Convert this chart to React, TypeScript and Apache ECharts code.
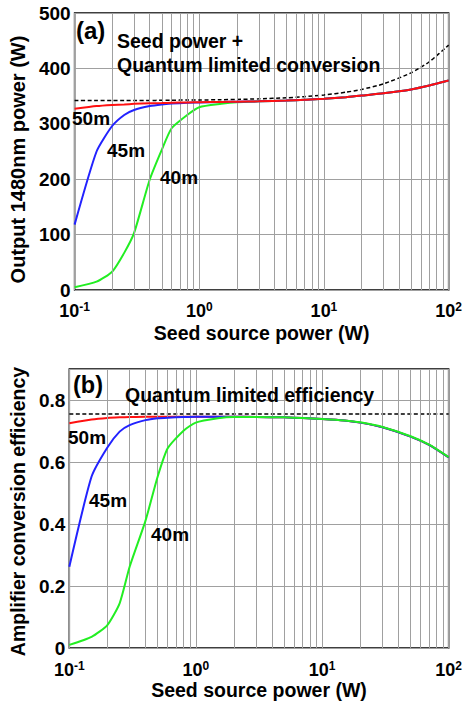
import React, { useEffect, useRef } from 'react';
import * as echarts from 'echarts';

// Seed source power (W) sample points
const seedPower = [0.1, 0.15, 0.2, 0.25, 0.3, 0.4, 0.5, 0.6, 0.8, 1, 1.5, 2, 3, 5, 7, 10, 15, 20, 30, 50, 70, 100];

// (a) Output 1480nm power (W)
const outQuantumLimit = [342, 342, 342, 342, 342, 342, 342.5, 342.5, 343, 343, 343.5, 344, 345, 347, 349, 352, 357, 362, 372, 392, 412, 442];
const out50m = [327, 332, 334, 335, 336, 337, 337.5, 338, 338.5, 339, 339.5, 340, 340.5, 342, 343.5, 345, 348, 351, 355, 362, 369, 378];
const out45m = [118, 250, 296, 316, 325, 332, 335, 336.5, 338, 338.5, 339.5, 340, 340.5, 342, 343.5, 345, 348, 351, 355, 362, 369, 378];
const out40m = [5, 15, 33, 67, 103, 199, 253, 292, 316, 330, 336, 339, 340.5, 342, 343.5, 345, 348, 351, 355, 362, 369, 378];

// (b) Amplifier conversion efficiency
const quantumEfficiency = 0.755;
const eff50m = [0.725, 0.737, 0.742, 0.744, 0.745, 0.746, 0.746, 0.746, 0.746, 0.746, 0.746, 0.746, 0.745, 0.744, 0.742, 0.739, 0.734, 0.727, 0.712, 0.682, 0.655, 0.615];
const eff45m = [0.262, 0.553, 0.647, 0.698, 0.719, 0.735, 0.741, 0.743, 0.745, 0.746, 0.746, 0.746, 0.745, 0.744, 0.742, 0.739, 0.734, 0.727, 0.712, 0.682, 0.655, 0.615];
const eff40m = [0.01, 0.036, 0.074, 0.144, 0.262, 0.41, 0.553, 0.644, 0.701, 0.727, 0.741, 0.745, 0.745, 0.744, 0.742, 0.739, 0.734, 0.728, 0.713, 0.683, 0.656, 0.616];

// Minor log grid positions
const minorGridX = [0.2, 0.3, 0.4, 0.5, 0.6, 0.7, 0.8, 0.9, 2, 3, 4, 5, 6, 7, 8, 9, 20, 30, 40, 50, 60, 70, 80, 90];

const FONT = '"Liberation Sans", Arial, sans-serif';
const GRID_COLOR = '#a0a0a0';

export default function App() {
  const ref = useRef<HTMLDivElement>(null);

  useEffect(() => {
    if (!ref.current) return;
    const chart = echarts.init(ref.current, null, { renderer: 'svg' });
    const pairs = (ys: number[]) => seedPower.map((x, i) => [x, ys[i]]);

    const xAxis = (gridIndex: number, nameGap: number, labelMargin: number) => ({
      type: 'log',
      logBase: 10,
      min: 0.1,
      max: 100,
      gridIndex,
      name: 'Seed source power (W)',
      nameLocation: 'middle',
      nameGap,
      nameTextStyle: { fontFamily: FONT, fontWeight: 'bold', fontSize: 19.5, color: '#000' },
      axisLine: { show: false },
      axisTick: { show: false },
      axisLabel: {
        margin: labelMargin,
        formatter: (v: number) => `{b|10}{s|${Math.round(Math.log10(v))}}`,
        rich: {
          b: { fontFamily: FONT, fontWeight: 'bold', fontSize: 18, color: '#000', lineHeight: 20 },
          s: { fontFamily: FONT, fontWeight: 'bold', fontSize: 12, color: '#000', lineHeight: 13, verticalAlign: 'top' },
        },
      },
      splitLine: { show: true, lineStyle: { color: GRID_COLOR, width: 1 } },
    });

    const yLabelStyle = { fontFamily: FONT, fontWeight: 'bold', fontSize: 19, color: '#000', margin: 4 };

    const minorGridSeries = (idx: number, y: number) => ({
      type: 'line',
      xAxisIndex: idx,
      yAxisIndex: idx,
      data: [[1, y]],
      showSymbol: false,
      lineStyle: { opacity: 0 },
      silent: true,
      z: 1,
      markLine: {
        silent: true,
        symbol: ['none', 'none'],
        label: { show: false },
        lineStyle: { color: GRID_COLOR, width: 1, type: 'solid' },
        data: minorGridX.map((x) => ({ xAxis: x })),
      },
    });

    const line = (idx: number, ys: number[], color: string, name: string, z: number) => ({
      type: 'line',
      name,
      xAxisIndex: idx,
      yAxisIndex: idx,
      data: pairs(ys),
      showSymbol: false,
      smooth: 0.2,
      lineStyle: { color, width: 2 },
      z,
    });

    const annot = (text: string, x: number, y: number, size = 19.5) => ({
      type: 'text',
      left: x,
      top: y - size * 0.6,
      style: { text, fontFamily: FONT, fontWeight: 'bold', fontSize: size, fill: '#000' },
      z: 100,
    });

    chart.setOption({
      animation: false,
      backgroundColor: '#fff',
      grid: [
        { left: 72, top: 13, width: 379, height: 277, show: true, borderColor: '#000', borderWidth: 1.5, backgroundColor: 'transparent' },
        { left: 67, top: 369, width: 382, height: 279, show: true, borderColor: '#000', borderWidth: 1.5, backgroundColor: 'transparent' },
      ],
      xAxis: [xAxis(0, 33, 11), xAxis(1, 28, 12)],
      yAxis: [
        {
          type: 'value',
          gridIndex: 0,
          min: 0,
          max: 500,
          interval: 100,
          name: 'Output 1480nm power (W)',
          nameLocation: 'middle',
          nameGap: 41,
          nameTextStyle: { fontFamily: FONT, fontWeight: 'bold', fontSize: 20, color: '#000', padding: [0, 16, 0, 0] },
          axisLine: { show: false },
          axisTick: { show: false },
          axisLabel: yLabelStyle,
          splitLine: { show: true, lineStyle: { color: GRID_COLOR, width: 1 } },
        },
        {
          type: 'value',
          gridIndex: 1,
          min: 0,
          max: 0.9,
          interval: 0.2,
          name: 'Amplifier conversion efficiency',
          nameLocation: 'middle',
          nameGap: 37,
          nameTextStyle: { fontFamily: FONT, fontWeight: 'bold', fontSize: 19.5, color: '#000', padding: [0, 6, 0, 0] },
          axisLine: { show: false },
          axisTick: { show: false },
          axisLabel: {
            ...yLabelStyle,
            formatter: (v: number) => (v > 0.85 ? '' : v === 0 ? '0' : v.toFixed(1)),
          },
          splitLine: { show: true, lineStyle: { color: GRID_COLOR, width: 1 } },
        },
      ],
      series: [
        minorGridSeries(0, 0),
        minorGridSeries(1, 0),
        {
          type: 'line',
          name: 'Seed power + Quantum limited conversion',
          xAxisIndex: 0,
          yAxisIndex: 0,
          data: pairs(outQuantumLimit),
          showSymbol: false,
          smooth: 0.2,
          lineStyle: { color: '#000', width: 1.5, type: [4, 2.5] },
          z: 3,
        },
        line(0, out40m, '#22ee22', '40m', 4),
        line(0, out45m, '#2222ff', '45m', 5),
        line(0, out50m, '#ff1010', '50m', 6),
        {
          type: 'line',
          name: 'Quantum limited efficiency',
          xAxisIndex: 1,
          yAxisIndex: 1,
          data: seedPower.map((x) => [x, quantumEfficiency]),
          showSymbol: false,
          lineStyle: { color: '#000', width: 1.5, type: [4, 2.5] },
          z: 3,
        },
        line(1, eff50m, '#ff1010', '50m', 4),
        line(1, eff45m, '#2222ff', '45m', 5),
        line(1, eff40m, '#22ee22', '40m', 6),
      ],
      graphic: [
        annot('(a)', 76, 33, 24),
        annot('Seed power +', 117, 43),
        annot('Quantum limited conversion', 117, 67),
        annot('50m', 72, 120, 19),
        annot('45m', 107, 152, 19),
        annot('40m', 160, 179, 19),
        annot('(b)', 73, 387, 23.5),
        annot('Quantum limited efficiency', 125, 397),
        annot('50m', 68, 439, 19),
        annot('45m', 89, 502, 19),
        annot('40m', 151, 536, 19),
      ],
    });

    return () => chart.dispose();
  }, []);

  return (
    <div
      ref={ref}
      style={{ position: 'fixed', left: 0, top: 0, width: 465, height: 702, background: '#fff' }}
    />
  );
}
